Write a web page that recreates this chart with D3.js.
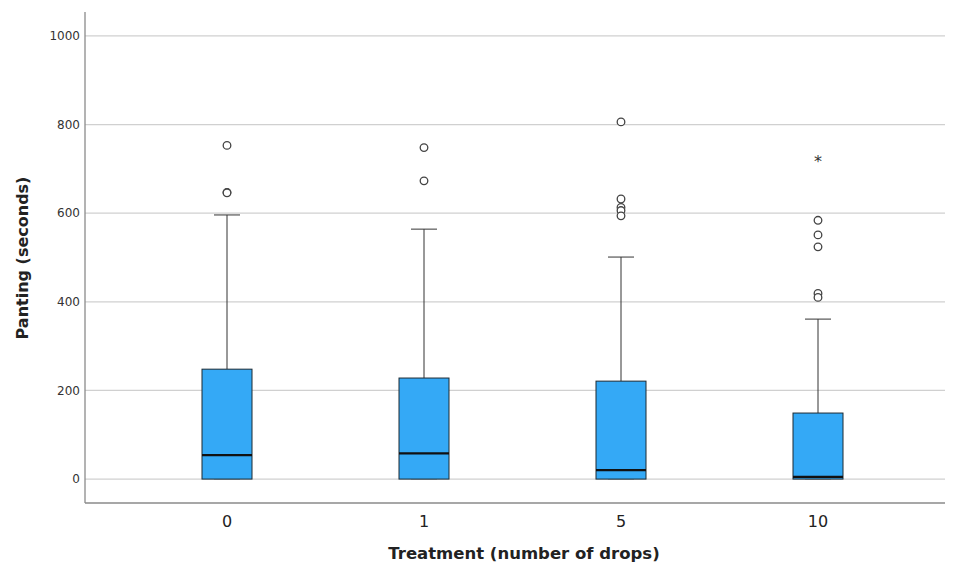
<!doctype html>
<html lang="en">
<head>
<meta charset="utf-8">
<title>Panting by treatment</title>
<script src="https://cdn.jsdelivr.net/npm/d3@7"></script>
<style>
  body { margin: 0; background: #fff; }
  svg text { font-family: "DejaVu Sans", Verdana, sans-serif; fill: #222; }
</style>
</head>
<body>
<svg id="chart" width="960" height="568"></svg>
<script>
// treatment groups and their box statistics (seconds)
const groups = ["0", "1", "5", "10"];
const q1 = [0, 0, 0, 0];
const median = [54, 58, 20, 5];
const q3 = [248, 228, 221, 149];
const whiskerLo = [0, 0, 0, 0];
const whiskerHi = [596, 564, 501, 361];
const outliers = [
  [753, 647, 646],
  [748, 673],
  [806, 632, 613, 606, 594],
  [584, 551, 524, 419, 410]
];
const extremes = [[], [], [], [725]];
const yTicks = [0, 200, 400, 600, 800, 1000];

const svg = d3.select("#chart");

const plotL = 85, plotR = 945, plotB = 503, plotT = 12;

const y = d3.scaleLinear().domain([-54, 1054]).range([plotB, plotT]);
const x = d3.scalePoint().domain(groups).range([227, 818]);

// grid lines
svg.append("g")
  .selectAll("line")
  .data(yTicks)
  .join("line")
  .attr("x1", plotL).attr("x2", plotR)
  .attr("y1", d => y(d)).attr("y2", d => y(d))
  .attr("stroke", "#d0d0d0")
  .attr("stroke-width", 1.3);

// axes
svg.append("line")
  .attr("x1", plotL).attr("x2", plotL).attr("y1", plotT).attr("y2", plotB)
  .attr("stroke", "#8a8a8a").attr("stroke-width", 1.3);
svg.append("line")
  .attr("x1", plotL).attr("x2", plotR).attr("y1", plotB).attr("y2", plotB)
  .attr("stroke", "#8a8a8a").attr("stroke-width", 1.3);

svg.append("g")
  .selectAll("text")
  .data(yTicks)
  .join("text")
  .attr("x", plotL - 5)
  .attr("y", d => y(d))
  .attr("dy", "0.35em")
  .attr("text-anchor", "end")
  .style("font-size", "12px")
  .style("fill", "#333")
  .text(d => d);

svg.append("g")
  .selectAll("text")
  .data(groups)
  .join("text")
  .attr("x", d => x(d))
  .attr("y", 527)
  .attr("text-anchor", "middle")
  .style("font-size", "16px")
  .text(d => d);

// axis titles
svg.append("text")
  .attr("x", 524).attr("y", 559)
  .attr("text-anchor", "middle")
  .style("font-size", "16.5px").style("font-weight", "bold")
  .text("Treatment (number of drops)");

svg.append("text")
  .attr("transform", "translate(28,258) rotate(-90)")
  .attr("text-anchor", "middle")
  .style("font-size", "16px").style("font-weight", "bold")
  .text("Panting (seconds)");

const boxW = 50, capW = 26;

const g = svg.append("g")
  .selectAll("g")
  .data(groups)
  .join("g");

// whiskers
g.append("line")
  .attr("x1", d => x(d)).attr("x2", d => x(d))
  .attr("y1", (d, i) => y(q3[i])).attr("y2", (d, i) => y(whiskerHi[i]))
  .attr("stroke", "#333").attr("stroke-width", 1);
g.append("line")
  .attr("x1", d => x(d) - capW / 2).attr("x2", d => x(d) + capW / 2)
  .attr("y1", (d, i) => y(whiskerHi[i])).attr("y2", (d, i) => y(whiskerHi[i]))
  .attr("stroke", "#333").attr("stroke-width", 1);
g.append("line")
  .attr("x1", d => x(d) - capW / 2).attr("x2", d => x(d) + capW / 2)
  .attr("y1", (d, i) => y(whiskerLo[i])).attr("y2", (d, i) => y(whiskerLo[i]))
  .attr("stroke", "#999").attr("stroke-width", 1);

// boxes
g.append("rect")
  .attr("x", d => x(d) - boxW / 2)
  .attr("width", boxW)
  .attr("y", (d, i) => y(q3[i]))
  .attr("height", (d, i) => y(q1[i]) - y(q3[i]))
  .attr("fill", "#34a9f6")
  .attr("stroke", "#1d2a33")
  .attr("stroke-width", 1);

// medians
g.append("line")
  .attr("x1", d => x(d) - boxW / 2).attr("x2", d => x(d) + boxW / 2)
  .attr("y1", (d, i) => y(median[i])).attr("y2", (d, i) => y(median[i]))
  .attr("stroke", "#111").attr("stroke-width", 2.2);

// outliers
g.selectAll("circle")
  .data((d, i) => outliers[i].map(v => ({ g: d, v })))
  .join("circle")
  .attr("cx", o => x(o.g))
  .attr("cy", o => y(o.v))
  .attr("r", 3.8)
  .attr("fill", "#fff")
  .attr("stroke", "#444")
  .attr("stroke-width", 1.3);

// extreme values
g.selectAll("text.star")
  .data((d, i) => extremes[i].map(v => ({ g: d, v })))
  .join("text")
  .attr("class", "star")
  .attr("x", o => x(o.g))
  .attr("y", o => y(o.v))
  .attr("dy", "0.6em")
  .attr("text-anchor", "middle")
  .style("font-size", "16px")
  .style("fill", "#333")
  .text("*");
</script>
</body>
</html>
